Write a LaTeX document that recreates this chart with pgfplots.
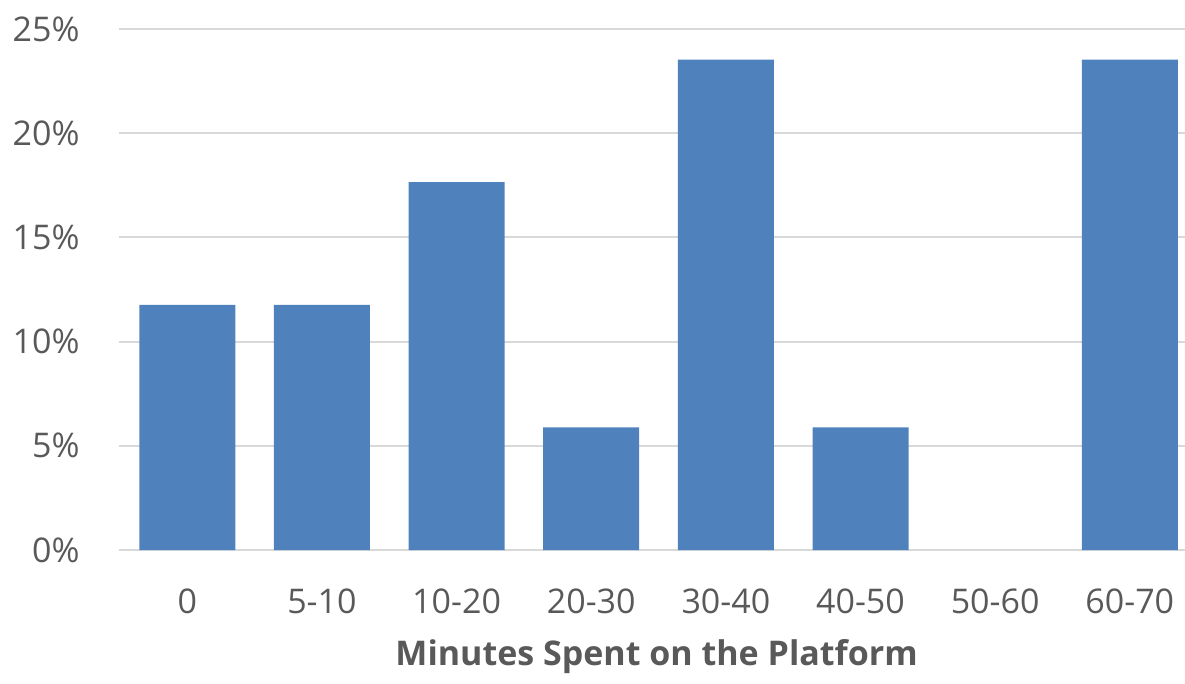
\documentclass[border=0pt]{standalone}
\usepackage{fontspec}
\setmainfont{Open Sans}
\usepackage{pgfplots}
\pgfplotsset{compat=1.18}
\definecolor{barblue}{HTML}{4F81BD}
\definecolor{txtgray}{HTML}{595959}
\definecolor{gridgray}{HTML}{D9D9D9}
\begin{document}
\begin{tikzpicture}
\path[use as bounding box] (-59.3bp,-67bp) rectangle (533.2bp,275bp);
\begin{axis}[
  at={(0,0)}, anchor=south west,
  scale only axis,
  width=533.2bp, height=260.5bp,
  xmin=-0.51, xmax=7.41,
  ymin=0, ymax=25,
  axis line style={draw=none},
  major tick length=0pt,
  ytick={0,5,10,15,20,25},
  yticklabels={0\%,5\%,10\%,15\%,20\%,25\%},
  xtick={0,1,2,3,4,5,6,7},
  xticklabels={0,5-10,10-20,20-30,30-40,40-50,50-60,60-70},
  ymajorgrids,
  grid style={gridgray, line width=1bp},
  tick label style={font=\fontsize{17bp}{20bp}\selectfont, text=txtgray},
  yticklabel style={anchor=east, xshift=-16bp},
  xticklabel style={anchor=north, yshift=-16bp},
  xlabel={Minutes Spent on the Platform},
  xlabel style={font=\fontsize{17bp}{20bp}\selectfont\bfseries, text=txtgray,
    at={(axis description cs:0.5045,0)}, anchor=center, yshift=-53.5bp},
  ybar, bar width=0.713, bar shift=0pt,
  clip=false,
  unbounded coords=discard,
]
\addplot[fill=barblue, draw=none, y filter/.expression={y==0 ? nan : y}] coordinates {
  (0,11.76) (1,11.76) (2,17.65) (3,5.88) (4,23.53) (5,5.88) (6,0) (7,23.53)
};
\end{axis}
\end{tikzpicture}
\end{document}
